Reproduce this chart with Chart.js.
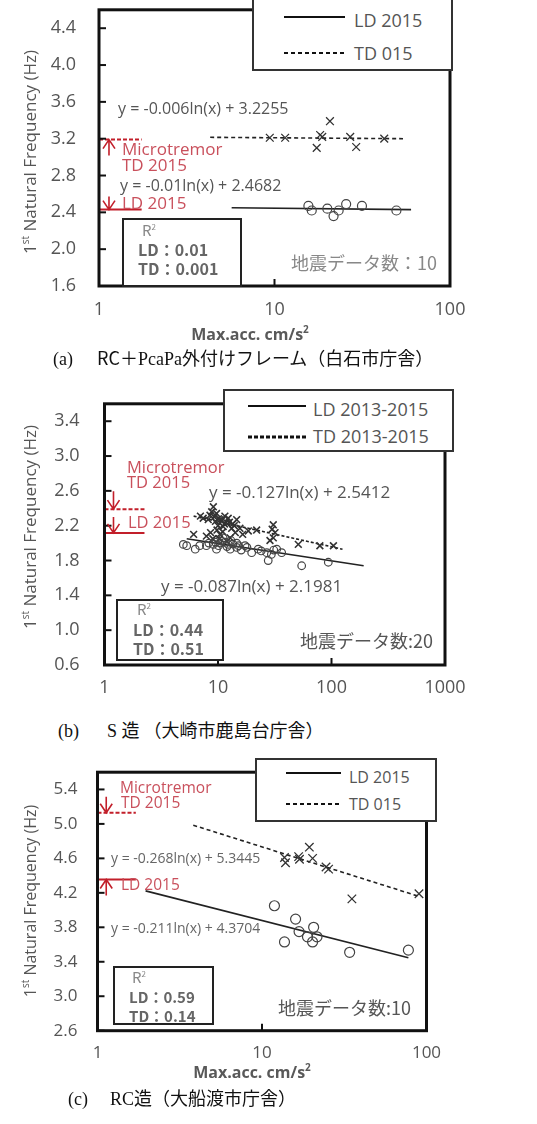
<!DOCTYPE html>
<html>
<head>
<meta charset="utf-8">
<script src="https://cdn.jsdelivr.net/npm/chart.js"></script>
<style>
  body { margin: 0; background: #fff; width: 537px; height: 1124px; position: relative; overflow: hidden; font-family: "Open Sans", sans-serif; }
  canvas { position: absolute; left: 0; }
  .t { position: absolute; white-space: nowrap; line-height: 1; transform: translateY(-50%); }
  .eq { color: #555; }
  .red { color: #c9505c; }
  .r2 { color: #666; font-family: "Noto Sans CJK JP", sans-serif; font-weight: 700; font-size: 15px; }
  .cnt { font-family: "Noto Sans CJK JP", sans-serif; font-size: 18px; }
  .box { position: absolute; background: #fff; border: 2px solid #222; box-sizing: border-box; }
  .ytitle { position: absolute; white-space: nowrap; color: #555; font-size: 17px; line-height: 1; transform: translate(-50%, -50%) rotate(-90deg); }
  .ytitle sup { font-size: 10px; }
  .xtitle { position: absolute; white-space: nowrap; color: #595959; font-size: 16px; font-weight: 700; line-height: 1; transform: translate(-50%, -50%); }
  .cap { position: absolute; white-space: nowrap; color: #111; font-size: 18px; line-height: 1; transform: translateY(-50%); font-family: "Liberation Serif", "Noto Sans CJK JP", serif; }
  .cap .jp { font-family: "Noto Sans CJK JP", sans-serif; }
  svg { position: absolute; overflow: visible; }
</style>
</head>
<body>
<canvas id="chartA" width="537" height="374"></canvas>
<canvas id="chartB" width="537" height="337"></canvas>
<canvas id="chartC" width="537" height="326"></canvas>
<script>
// (a) RC+PcaPa
const aTickX = [1, 10, 100];
const aTickY = [1.6, 2.0, 2.4, 2.8, 3.2, 3.6, 4.0, 4.4];
const aLdX = [15.6, 16.3, 20.0, 21.7, 23.2, 25.6, 31.5, 49.5];
const aLdY = [2.47, 2.42, 2.44, 2.36, 2.42, 2.49, 2.47, 2.42];
const aTdX = [9.4, 11.5, 17.4, 18.2, 18.7, 20.7, 27.0, 29.2, 42.2];
const aTdY = [3.21, 3.21, 3.10, 3.24, 3.22, 3.39, 3.22, 3.11, 3.20];
const aLdFitX = [5.7, 60];
const aLdFitY = [2.45, 2.43];
const aTdFitX = [4.3, 54];
const aTdFitY = [3.215, 3.20];
const aMicroTD = 3.19;
const aMicroLD = 2.43;

// (b) S
const bTickX = [1, 10, 100, 1000];
const bTickY = [0.6, 1.0, 1.4, 1.8, 2.2, 2.6, 3.0, 3.4];
const bLdX = [4.95, 5.3, 6.3, 7.9, 10.4, 12.3, 14.6, 9.7, 11.1, 17.3, 19.8, 22.6, 27.7, 26.9, 32.9, 36.4, 54.6, 93.7, 14.6, 9.1, 12.8, 6.9, 10.8, 13.5, 16, 31,
              8.3, 9.5, 10.1, 11.6, 12.0, 13.0, 15.2, 18.0, 24, 29.5];
const bLdY = [1.985, 1.97, 1.93, 1.97, 2.00, 1.985, 2.00, 1.93, 2.06, 1.97, 1.89, 1.93, 1.80, 1.89, 1.93, 1.89, 1.74, 1.78, 1.95, 1.985, 1.93, 1.97, 2.02, 1.99, 1.92, 1.92,
              2.00, 2.01, 1.97, 2.01, 1.96, 2.03, 1.97, 1.95, 1.91, 1.87];
const bTdX = [9.1, 9.7, 7.4, 8.2, 10.4, 12.3, 14.6, 11.1, 15.6, 18.5, 21.9, 6.1, 7.9, 10.4, 12.8, 30.7, 31.8, 30.7, 28.7, 51, 79, 104, 8.5, 13.2, 7.0, 11.5, 9.5, 10.0, 11.8, 13.5, 16.5, 9.0, 12.0,
              8.8, 9.3, 10.1, 10.8, 11.4, 12.6, 13.9, 9.8, 8.6, 11.0, 14.2, 10.3, 30.0];
const bTdY = [2.417, 2.34, 2.285, 2.27, 2.27, 2.285, 2.27, 2.19, 2.17, 2.14, 2.15, 2.10, 2.08, 2.10, 2.06, 2.21, 2.12, 2.06, 2.03, 1.985, 1.97, 1.97, 2.32, 2.17, 2.31, 2.31, 2.25, 2.20, 2.24, 2.22, 2.10, 2.05, 2.02,
              2.36, 2.30, 2.28, 2.26, 2.22, 2.24, 2.20, 2.15, 2.12, 2.13, 2.12, 2.05, 2.16];
const bLdFitX = [5.3, 192];
const bLdFitY = [2.05, 1.74];
const bTdFitX = [6.1, 125];
const bTdFitY = [2.31, 1.93];
const bMicroTD = 2.39;
const bMicroLD = 2.117;

// (c) RC
const cTickX = [1, 10, 100];
const cTickY = [2.6, 3.0, 3.4, 3.8, 4.2, 4.6, 5.0, 5.4];
const cLdX = [11.9, 16.0, 13.7, 16.8, 18.9, 20.6, 20.3, 21.6, 34.1, 77.6];
const cLdY = [4.05, 3.895, 3.63, 3.75, 3.69, 3.80, 3.63, 3.69, 3.51, 3.535];
const cTdX = [13.9, 13.7, 16.7, 16.9, 19.4, 20.3, 24.5, 25.4, 35.2, 90];
const cTdY = [4.55, 4.61, 4.62, 4.59, 4.73, 4.60, 4.50, 4.475, 4.13, 4.19];
const cLdFitX = [1.96, 77.6];
const cLdFitY = [4.223, 3.446];
const cTdFitX = [3.82, 91.7];
const cTdFitY = [4.985, 4.154];
const cMicroTD = 5.13;
const cMicroLD = 4.355;

const RED = '#c21f2a';
const FONT = '"Open Sans", sans-serif';

const pts = (xs, ys) => xs.map((x, i) => ({x: x, y: ys[i]}));

const framePlugin = {
  id: 'frame',
  afterDatasetsDraw(chart, args, opts) {
    const {ctx, chartArea: a, scales: {x, y}} = chart;
    ctx.save();
    ctx.strokeStyle = '#111';
    ctx.lineWidth = 2;
    y.ticks.forEach(t => {
      const py = y.getPixelForValue(t.value);
      ctx.beginPath(); ctx.moveTo(a.left, py); ctx.lineTo(a.left + 7, py); ctx.stroke();
    });
    x.ticks.forEach(t => {
      const px = x.getPixelForValue(t.value);
      ctx.beginPath(); ctx.moveTo(px, a.bottom); ctx.lineTo(px, a.bottom - 7); ctx.stroke();
    });
    ctx.lineWidth = 3;
    ctx.strokeRect(a.left, a.top, a.right - a.left, a.bottom - a.top);
    // microtremor arrows
    ctx.strokeStyle = RED;
    ctx.lineWidth = 1.6;
    (opts.arrows || []).forEach(ar => {
      const px = x.getPixelForValue(ar.x);
      const tip = y.getPixelForValue(ar.y);
      const s = ar.up ? 1 : -1;
      ctx.beginPath();
      ctx.moveTo(px, tip + s * ar.len); ctx.lineTo(px, tip);
      ctx.moveTo(px - 6, tip + s * 9); ctx.lineTo(px, tip); ctx.lineTo(px + 6, tip + s * 9);
      ctx.stroke();
    });
    ctx.restore();
  }
};

function makePanel(id, p) {
  const cv = document.getElementById(id);
  cv.style.top = p.canvasTop + 'px';
  return new Chart(cv, {
    type: 'scatter',
    data: {
      datasets: [
        { label: 'LD', data: pts(p.ldX, p.ldY), pointStyle: 'circle', pointRadius: p.r, borderColor: '#444', backgroundColor: 'rgba(0,0,0,0)', borderWidth: 1.2 },
        { label: 'TD', data: pts(p.tdX, p.tdY), pointStyle: 'crossRot', pointRadius: p.r + 1, borderColor: '#333', borderWidth: p.crossW },
        { type: 'line', label: 'LD fit', data: pts(p.ldFitX, p.ldFitY), borderColor: '#222', borderWidth: 1.6, pointRadius: 0 },
        { type: 'line', label: 'TD fit', data: pts(p.tdFitX, p.tdFitY), borderColor: '#222', borderWidth: 1.6, borderDash: p.dash, pointRadius: 0 },
        { type: 'line', label: 'Microtremor TD', data: pts([1, p.microEnd], [p.microTD, p.microTD]), borderColor: RED, borderWidth: 2, borderDash: [4, 2], pointRadius: 0 },
        { type: 'line', label: 'Microtremor LD', data: pts([1, p.microEnd], [p.microLD, p.microLD]), borderColor: RED, borderWidth: 2, pointRadius: 0 }
      ]
    },
    options: {
      responsive: false,
      animation: false,
      layout: { padding: { top: p.frame.top - p.canvasTop, right: 537 - p.frame.right, left: 0, bottom: 0 } },
      plugins: {
        legend: { display: false },
        tooltip: { enabled: false },
        frame: { arrows: p.arrows }
      },
      scales: {
        x: {
          type: 'logarithmic', min: p.tickX[0], max: p.tickX[p.tickX.length - 1],
          afterBuildTicks: s => { s.ticks = p.tickX.map(v => ({value: v})); },
          afterFit: s => { s.height = cv.height - (p.frame.bottom - p.canvasTop); },
          grid: { display: false, drawTicks: false },
          border: { display: false },
          ticks: { autoSkip: false, maxRotation: 0, padding: p.xPad, color: '#555', font: { family: FONT, size: p.fs }, callback: v => String(v) }
        },
        y: {
          type: 'linear', min: p.tickY[0], max: p.tickY[p.tickY.length - 1] + 0.2,
          afterBuildTicks: s => { s.ticks = p.tickY.map(v => ({value: v})); },
          afterFit: s => { s.width = p.frame.left; },
          grid: { display: false, drawTicks: false },
          border: { display: false },
          ticks: { autoSkip: false, padding: p.yPad, color: '#555', font: { family: FONT, size: p.fs }, callback: v => v.toFixed(1) }
        }
      }
    },
    plugins: [framePlugin]
  });
}

makePanel('chartA', {
  canvasTop: -24, frame: {left: 99, top: 6, right: 450, bottom: 286},
  tickX: aTickX, tickY: aTickY, ldX: aLdX, ldY: aLdY, tdX: aTdX, tdY: aTdY,
  ldFitX: aLdFitX, ldFitY: aLdFitY, tdFitX: aTdFitX, tdFitY: aTdFitY,
  microTD: aMicroTD, microLD: aMicroLD, microEnd: 1.75, r: 4.5, crossW: 1.3, dash: [4, 3], xPad: 13, yPad: 23, fs: 18,
  arrows: [{x: 1.14, y: aMicroTD, up: true, len: 16}, {x: 1.14, y: aMicroLD, up: false, len: 13}]
});
makePanel('chartB', {
  canvasTop: 368, frame: {left: 104.5, top: 398, right: 445, bottom: 665},
  tickX: bTickX, tickY: bTickY, ldX: bLdX, ldY: bLdY, tdX: bTdX, tdY: bTdY,
  ldFitX: bLdFitX, ldFitY: bLdFitY, tdFitX: bTdFitX, tdFitY: bTdFitY,
  microTD: bMicroTD, microLD: bMicroLD, microEnd: 2.25, r: 3.8, crossW: 1.6, dash: [3, 2], xPad: 12, yPad: 25, fs: 18,
  arrows: [{x: 1.2, y: bMicroTD, up: false, len: 18}, {x: 1.2, y: bMicroLD, up: false, len: 16}]
});
makePanel('chartC', {
  canvasTop: 742, frame: {left: 97.5, top: 772, right: 426.5, bottom: 1030.7},
  tickX: cTickX, tickY: cTickY, ldX: cLdX, ldY: cLdY, tdX: cTdX, tdY: cTdY,
  ldFitX: cLdFitX, ldFitY: cLdFitY, tdFitX: cTdFitX, tdFitY: cTdFitY,
  microTD: cMicroTD, microLD: cMicroLD, microEnd: 1.71, r: 5, crossW: 1.3, dash: [4, 3], xPad: 12, yPad: 20, fs: 17,
  arrows: [{x: 1.13, y: cMicroTD, up: false, len: 16}, {x: 1.13, y: cMicroLD, up: true, len: 16}]
});

// ---- text overlays ----
function el(tag, cls, x, y, html, style) {
  const d = document.createElement(tag);
  d.className = cls;
  d.style.left = x + 'px';
  d.style.top = y + 'px';
  d.innerHTML = html;
  if (style) Object.assign(d.style, style);
  document.body.appendChild(d);
  return d;
}
function box(x, y, w, h, style) {
  return el('div', 'box', x, y, '', Object.assign({width: w + 'px', height: h + 'px'}, style || {}));
}
function legLine(x1, x2, y, dash, width) {
  const s = document.createElementNS('http://www.w3.org/2000/svg', 'svg');
  s.setAttribute('width', x2 - x1); s.setAttribute('height', 6);
  s.style.left = x1 + 'px'; s.style.top = (y - 3) + 'px';
  s.innerHTML = '<line x1="0" y1="3" x2="' + (x2 - x1) + '" y2="3" stroke="#111" stroke-width="' + width + '"' + (dash ? ' stroke-dasharray="' + dash + '"' : '') + '/>';
  document.body.appendChild(s);
}

// y titles
const yTitle = '1<sup>st</sup> Natural Frequency (Hz)';
el('div', 'ytitle', 29, 152, yTitle);
el('div', 'ytitle', 29, 527, yTitle);
el('div', 'ytitle', 29, 901, yTitle, {fontSize: '16px'});
// x titles
el('div', 'xtitle', 250, 333, 'Max.acc. cm/s<sup style="font-size:10px">2</sup>');
el('div', 'xtitle', 252, 1071, 'Max.acc. cm/s<sup style="font-size:10px">2</sup>');

// legends
box(252, -2, 201, 73, {borderColor: '#333'});
legLine(284, 345, 17, null, 2);
el('div', 't eq', 354, 20, 'LD 2015', {fontSize: '18px'});
legLine(284, 345, 53, '4 3', 2);
el('div', 't eq', 354, 53, 'TD 015', {fontSize: '18px'});

box(223, 389, 231, 63, {borderColor: '#333'});
legLine(248, 306, 406, null, 2);
el('div', 't eq', 313, 409, 'LD 2013-2015', {fontSize: '18px'});
legLine(248, 306, 437, '4 2', 3);
el('div', 't eq', 313, 436, 'TD 2013-2015', {fontSize: '18px'});

box(255, 758, 182, 64, {borderColor: '#333'});
legLine(286, 341, 773, null, 2);
el('div', 't eq', 349, 777, 'LD 2015', {fontSize: '16px'});
legLine(286, 341, 804, '4 3', 2);
el('div', 't eq', 349, 804, 'TD 015', {fontSize: '16px'});

// regression equations
el('div', 't eq', 118, 108, 'y = -0.006ln(x) + 3.2255', {fontSize: '16px'});
el('div', 't eq', 120, 185, 'y = -0.01ln(x) + 2.4682', {fontSize: '16px'});
el('div', 't eq', 209, 491, 'y = -0.127ln(x) + 2.5412', {fontSize: '17px'});
el('div', 't eq', 161, 585, 'y = -0.087ln(x) + 2.1981', {fontSize: '17px'});
el('div', 't eq', 111, 858, 'y = -0.268ln(x) + 5.3445', {fontSize: '14px', color: '#666'});
el('div', 't eq', 111, 928, 'y = -0.211ln(x) + 4.3704', {fontSize: '14px', color: '#666'});

// microtremor labels
el('div', 't red', 122, 148, 'Microtremor', {fontSize: '17px'});
el('div', 't red', 122, 164, 'TD 2015', {fontSize: '17px'});
el('div', 't red', 122, 202, 'LD 2015', {fontSize: '17px'});
el('div', 't red', 127, 467, 'Microtremor', {fontSize: '16.5px'});
el('div', 't red', 127, 482, 'TD 2015', {fontSize: '16.5px'});
el('div', 't red', 128, 522, 'LD 2015', {fontSize: '16.5px'});
el('div', 't red', 120, 788, 'Microtremor', {fontSize: '15.5px'});
el('div', 't red', 121, 803, 'TD 2015', {fontSize: '15.5px'});
el('div', 't red', 121, 885, 'LD 2015', {fontSize: '15.5px'});

// R2 boxes
box(122, 218, 120, 69);
el('div', 't r2', 142, 229, 'R<sup style="font-size:8px">2</sup>', {fontWeight: 400, color: '#888'});
el('div', 't r2', 138, 249, 'LD：0.01', {fontSize: '16px'});
el('div', 't r2', 138, 268, 'TD：0.001', {fontSize: '16px'});
box(116, 599, 108, 62);
el('div', 't r2', 137, 608, 'R<sup style="font-size:8px">2</sup>', {fontWeight: 400, color: '#888'});
el('div', 't r2', 133, 629, 'LD：0.44', {fontSize: '16px'});
el('div', 't r2', 133, 648, 'TD：0.51', {fontSize: '16px'});
box(113, 966, 101, 59);
el('div', 't r2', 132, 976, 'R<sup style="font-size:8px">2</sup>', {fontWeight: 400, color: '#888'});
el('div', 't r2', 129, 996, 'LD：0.59');
el('div', 't r2', 129, 1015, 'TD：0.14');

// earthquake counts
el('div', 't cnt', 291, 262, '地震データ数：10', {color: '#888'});
el('div', 't cnt', 300, 640, '地震データ数:20', {color: '#555'});
el('div', 't cnt', 278, 1007, '地震データ数:10', {color: '#555'});

// captions
el('div', 'cap', 53, 358, '(a)<span style="display:inline-block;width:24px"></span><span class="jp">RC＋</span>PcaPa<span class="jp">外付けフレーム（白石市庁舎）</span>');
el('div', 'cap', 58, 730, '(b)<span style="display:inline-block;width:28px"></span>S <span class="jp">造 （大崎市鹿島台庁舎）</span>');
el('div', 'cap', 68, 1098, '(c)<span style="display:inline-block;width:22px"></span>RC<span class="jp">造（大船渡市庁舎）</span>');
</script>
</body>
</html>
